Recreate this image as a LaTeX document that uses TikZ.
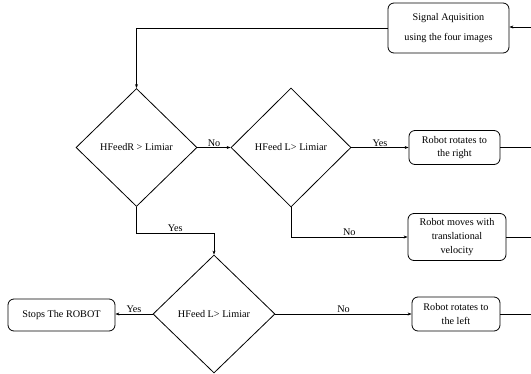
\documentclass[tikz,border=0pt]{standalone}
\usepackage{fontspec}
\setmainfont{Liberation Serif}
\usetikzlibrary{shapes.geometric,arrows.meta}
\begin{document}
\begin{tikzpicture}[x=1pt,y=-1pt,
  every node/.style={font=\fontsize{10.2}{12}\selectfont},
  box/.style={draw,rounded corners=6pt,line width=0.8pt,inner sep=0pt,align=center},
  dia/.style={draw,diamond,line width=0.8pt,inner sep=0pt},
  arr/.style={line width=0.7pt,-{Stealth[length=4pt,width=3pt]}},
  ln/.style={line width=0.7pt},
  lbl/.style={inner sep=1pt}]
\useasboundingbox (0,0) rectangle (531,373);
\node[box,minimum width=121pt,minimum height=50pt] (sig) at (448.5,28)
  {Signal Aquisition\\[8pt]using the four images};
\node[dia,minimum width=121pt,minimum height=118pt] (d1) at (136.5,147.5) {HFeedR > Limiar};
\node[dia,minimum width=120pt,minimum height=119pt] (d2) at (291,147.5) {HFeed L> Limiar};
\node[dia,minimum width=122pt,minimum height=118pt] (d3) at (214,314) {HFeed L> Limiar};
\node[box,minimum width=91pt,minimum height=34pt] (rr) at (454.5,147.5)
  {Robot rotates to\\[1pt]the right};
\node[box,minimum width=98pt,minimum height=47pt] (mv) at (457,237)
  {Robot moves with\\[2pt]translational\\[2pt]velocity};
\node[box,minimum width=88pt,minimum height=34pt] (rl) at (456,314)
  {Robot rotates to\\[2pt]the left};
\node[box,minimum width=107pt,minimum height=32pt] (stop) at (61.5,315) {Stops The ROBOT};
\coordinate (e0) at (531,27);
\coordinate (e1) at (531,147.5);
\coordinate (e2) at (531,237);
\coordinate (e3) at (531,314);
\draw[arr] (sig.west) -| (d1.north);
\draw[arr] (d1.east) -- node[lbl,above] {No} (d2.west);
\draw[arr] (d2.east) -- node[lbl,above] {Yes} (rr.west);
\draw[arr] (d1.south) -- ++(0,26) coordinate (c1) -| node[lbl,above,pos=0.25] {Yes} (d3.north);
\draw[arr] (d2.south) |- node[lbl,above,pos=0.75] {No} (mv.west);
\draw[arr] (d3.west) -- node[lbl,above] {Yes} (stop.east |- d3.west);
\draw[arr] (d3.east) -- node[lbl,above] {No} (rl.west);
\draw[ln] (rr.east) -- (e1);
\draw[ln] (mv.east) -- (e2);
\draw[ln] (rl.east) -- (e3);
\draw[arr] (e0) -- (sig.east |- e0);
\end{tikzpicture}
\end{document}
